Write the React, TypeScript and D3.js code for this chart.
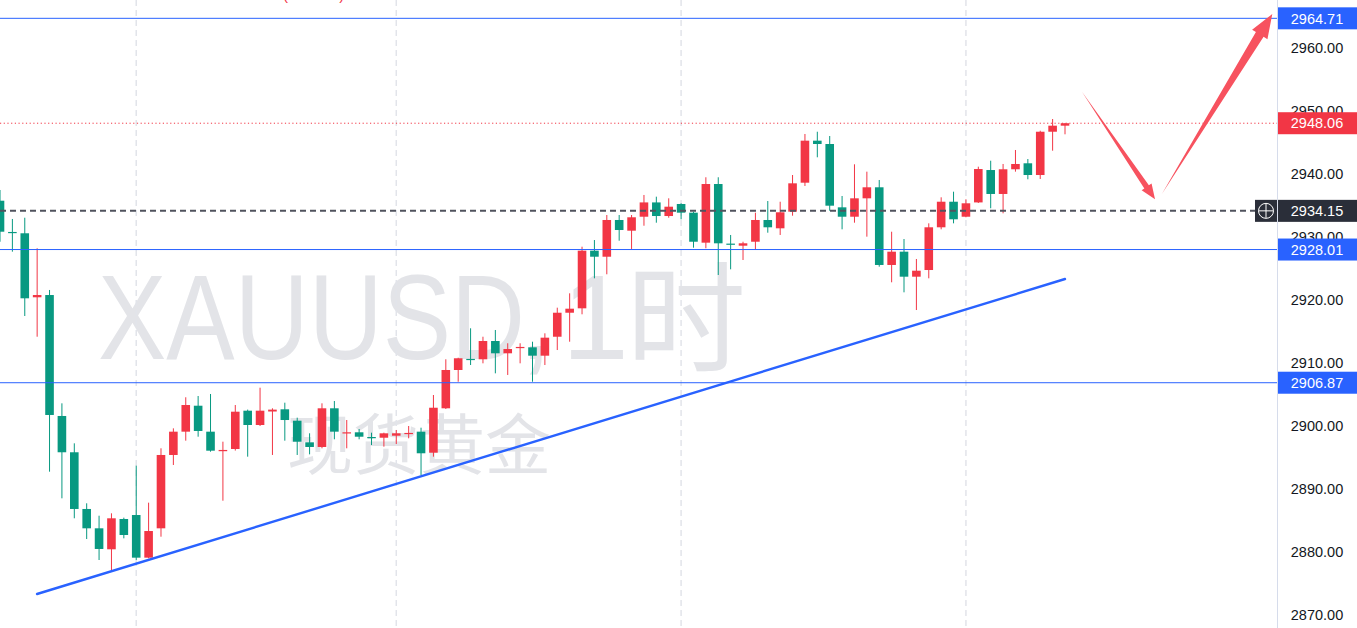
import React from "react";
import * as d3 from "d3";

// ---- Data (hourly XAUUSD candles) ----
const opens = [
  2935.76, 2930.8, 2930.59, 2920.43, 2920.79, 2901.59, 2895.83, 2886.83, 2883.76, 2880.43,
  2885.24, 2885.87, 2879.1, 2883.76, 2895.4, 2899.1, 2903.22, 2899.1, 2896.0, 2896.35,
  2902.43, 2900.16, 2902.3, 2902.65, 2900.84, 2897.41, 2896.67, 2902.81, 2898.9, 2899.0,
  2898.25, 2898.14, 2898.46, 2898.8, 2899.1, 2895.76, 2902.81, 2908.89, 2910.65, 2910.59,
  2913.49, 2911.54, 2912.4, 2912.49, 2911.16, 2914.17, 2917.98, 2918.68, 2927.83, 2926.87,
  2932.7, 2931.0, 2933.22, 2935.49, 2933.33, 2935.24, 2933.86, 2929.1, 2938.41, 2928.95,
  2928.62, 2929.25, 2932.7, 2931.38, 2934.02, 2938.62, 2945.29, 2944.76, 2934.71, 2933.22,
  2936.14, 2937.89, 2925.56, 2927.67, 2923.7, 2924.76, 2931.54, 2935.6, 2933.22, 2935.49,
  2940.63, 2936.83, 2940.75, 2941.7, 2939.84, 2946.71, 2947.67,
];
const highs = [
  2937.46, 2932.86, 2933.06, 2928.21, 2921.59, 2903.6, 2897.25, 2887.73, 2885.76, 2886.14,
  2885.45, 2893.7, 2887.83, 2896.46, 2899.63, 2904.56, 2904.76, 2905.08, 2897.51, 2903.33,
  2902.6, 2906.08, 2902.81, 2903.7, 2901.32, 2898.84, 2903.6, 2903.97, 2900.95, 2899.52,
  2898.94, 2898.94, 2899.37, 2900.0, 2899.73, 2904.92, 2910.59, 2910.84, 2915.51, 2914.17,
  2915.24, 2913.13, 2913.13, 2913.38, 2914.71, 2918.78, 2921.06, 2928.46, 2929.52, 2933.49,
  2933.49, 2933.49, 2936.67, 2936.4, 2936.14, 2935.35, 2934.02, 2939.48, 2939.48, 2930.32,
  2929.25, 2933.86, 2935.71, 2935.6, 2939.84, 2946.35, 2946.71, 2946.03, 2936.51, 2941.54,
  2940.37, 2939.05, 2930.84, 2929.68, 2926.51, 2932.17, 2936.3, 2937.19, 2935.98, 2941.16,
  2942.11, 2941.59, 2943.81, 2942.38, 2946.87, 2948.73, 2948.06,
];
const lows = [
  2929.25, 2927.67, 2917.46, 2914.17, 2892.75, 2888.52, 2885.35, 2882.06, 2878.73, 2876.87,
  2882.17, 2878.73, 2879.0, 2882.43, 2893.81, 2897.67, 2898.3, 2895.92, 2888.14, 2896.1,
  2895.13, 2900.0, 2895.4, 2897.67, 2895.4, 2895.5, 2896.46, 2897.89, 2896.46, 2897.89,
  2896.98, 2896.72, 2897.14, 2898.05, 2892.22, 2895.13, 2902.7, 2907.03, 2909.68, 2909.95,
  2908.36, 2908.1, 2909.95, 2907.03, 2909.68, 2912.06, 2913.38, 2917.73, 2923.44, 2924.08,
  2929.41, 2928.1, 2931.79, 2932.27, 2933.06, 2932.81, 2928.3, 2928.21, 2923.97, 2924.87,
  2926.35, 2927.94, 2930.68, 2930.32, 2933.38, 2938.1, 2942.65, 2934.17, 2931.22, 2932.27,
  2930.05, 2925.29, 2922.81, 2921.22, 2918.41, 2923.44, 2931.22, 2932.17, 2933.13, 2935.4,
  2934.56, 2933.76, 2940.37, 2939.16, 2939.21, 2943.7, 2946.3,
];
const closes = [
  2930.84, 2930.7, 2920.27, 2920.79, 2901.75, 2895.83, 2886.83, 2883.76, 2880.48, 2885.35,
  2882.7, 2879.1, 2883.33, 2895.4, 2899.1, 2903.33, 2899.21, 2896.08, 2896.2, 2902.27,
  2900.16, 2902.43, 2902.6, 2900.95, 2897.51, 2896.67, 2902.81, 2899.1, 2899.0, 2898.3,
  2898.15, 2898.84, 2898.84, 2898.9, 2895.67, 2902.9, 2908.89, 2910.75, 2910.5, 2913.49,
  2911.54, 2912.22, 2912.55, 2911.16, 2914.02, 2917.98, 2918.62, 2927.83, 2926.87, 2932.7,
  2931.11, 2933.13, 2935.49, 2933.33, 2934.81, 2933.86, 2929.25, 2938.41, 2929.0, 2928.85,
  2929.0, 2932.7, 2931.54, 2933.92, 2938.52, 2945.29, 2944.76, 2934.97, 2933.22, 2936.14,
  2937.89, 2925.56, 2927.67, 2923.7, 2924.65, 2931.54, 2935.6, 2932.81, 2935.35, 2940.79,
  2936.83, 2940.75, 2941.59, 2939.84, 2946.71, 2947.67, 2948.06,
];

// price axis ticks
const priceTicks = [2870, 2880, 2890, 2900, 2910, 2920, 2930, 2940, 2950, 2960];
// session break bars (dashed vertical lines)
const sessionBreaks = [11, 32, 55, 78];
// horizontal levels drawn by user
const levels = [2964.71, 2928.01, 2906.87];
const lastPrice = 2948.06;
const markedPrice = 2934.15;
// trend line (bar index, price)
const trendLine = [
  { i: 2.99, p: 2873.33 },
  { i: 86.0, p: 2923.33 },
];
// arrow markers (bar index, price)
const arrowDown = { from: { i: 87.37, p: 2953.06 }, to: { i: 93.27, p: 2935.98 } };
const arrowUp = { from: { i: 93.81, p: 2936.78 }, to: { i: 102.74, p: 2965.4 } };

const W = 1357;
const H = 628;
const PLOT_R = 1277;
const UP = "#F23645";
const DOWN = "#089981";
const BLUE = "#2962FF";

function arrowPath(x0: number, y0: number, x1: number, y1: number, headLen: number, headW: number, bodyW: number) {
  const dx = x1 - x0;
  const dy = y1 - y0;
  const L = Math.hypot(dx, dy);
  const ux = dx / L;
  const uy = dy / L;
  const nx = -uy;
  const ny = ux;
  const bx = x1 - ux * headLen;
  const by = y1 - uy * headLen;
  const pts = [
    [x0, y0],
    [bx + (nx * bodyW) / 2, by + (ny * bodyW) / 2],
    [bx + (nx * headW) / 2, by + (ny * headW) / 2],
    [x1, y1],
    [bx - (nx * headW) / 2, by - (ny * headW) / 2],
    [bx - (nx * bodyW) / 2, by - (ny * bodyW) / 2],
  ];
  return "M" + pts.map((p) => p.join(",")).join("L") + "Z";
}

export default function App() {
  const x = d3.scaleLinear().domain([0, 86]).range([0, 1065]);
  const y = d3.scaleLinear().domain([2870, 2960]).range([615, 48]);
  const bodyW = 8.6;
  const font = "'Liberation Sans', Arial, sans-serif";

  const trendGen = d3
    .line<{ i: number; p: number }>()
    .x((d) => x(d.i))
    .y((d) => y(d.p));

  const labelBox = (p: number, fill: string, key: string) => (
    <g key={key}>
      <rect x={PLOT_R + 1} y={y(p) - 11} width={W - PLOT_R - 1} height={22} fill={fill} />
      <text
        x={1317}
        y={y(p)}
        dy="0.36em"
        textAnchor="middle"
        fill="#ffffff"
        fontSize={14.5}
        fontFamily={font}
      >
        {p.toFixed(2)}
      </text>
    </g>
  );

  return (
    <svg
      width={W}
      height={H}
      style={{ position: "absolute", left: 0, top: 0, display: "block", background: "#ffffff" }}
    >
      <rect x={0} y={0} width={W} height={H} fill="#ffffff" />
      <clipPath id="plot">
        <rect x={0} y={0} width={PLOT_R} height={H} />
      </clipPath>

      <g clipPath="url(#plot)">
        {/* watermark */}
        <g fill="#e3e4e8">
          <text x={98} y={359} fontSize={120} fontFamily={font} textLength={427} lengthAdjust="spacingAndGlyphs">
            XAUUSD
          </text>
          <text x={519} y={359} fontSize={120} fontFamily={font}>
            ,
          </text>
          <text x={562} y={359} fontSize={120} fontFamily={font}>
            1
          </text>
          <text x={626} y={363} fontSize={120} fontFamily="'Noto Sans CJK SC', sans-serif">
            时
          </text>
          <text x={287} y={469} fontSize={66} fontFamily="'Noto Sans CJK SC', sans-serif">
            现货黄金
          </text>
        </g>

        {/* legend fragment at the very top */}
        <text x={283} y={0} fontSize={15} fill={UP} fontFamily={font}>
          (+0.39%)
        </text>

        {/* session breaks */}
        {sessionBreaks.map((i) => (
          <line
            key={"sb" + i}
            x1={x(i)}
            x2={x(i)}
            y1={0}
            y2={H}
            stroke="#e2e4ea"
            strokeWidth={1.5}
            strokeDasharray="6 4"
          />
        ))}

        {/* candles */}
        {opens.map((o, i) => {
          const c = closes[i];
          const col = c >= o ? UP : DOWN;
          const cx = x(i);
          const top = y(Math.max(o, c));
          const bot = y(Math.min(o, c));
          return (
            <g key={"c" + i}>
              <line x1={cx} x2={cx} y1={y(highs[i])} y2={y(lows[i])} stroke={col} strokeWidth={1} />
              <rect x={cx - bodyW / 2} y={top} width={bodyW} height={Math.max(1.2, bot - top)} fill={col} />
            </g>
          );
        })}

        {/* horizontal levels */}
        {levels.map((p) => (
          <line key={"lv" + p} x1={0} x2={PLOT_R} y1={y(p)} y2={y(p)} stroke={BLUE} strokeWidth={1} />
        ))}

        {/* trend line */}
        <path d={trendGen(trendLine) || ""} fill="none" stroke={BLUE} strokeWidth={2.4} strokeLinecap="round" />

        {/* last price dotted line */}
        <line
          x1={0}
          x2={PLOT_R}
          y1={y(lastPrice)}
          y2={y(lastPrice)}
          stroke={UP}
          strokeWidth={1}
          strokeDasharray="1.2 2.5"
        />

        {/* marked price dashed line */}
        <line
          x1={0}
          x2={1255}
          y1={y(markedPrice)}
          y2={y(markedPrice)}
          stroke="#50535E"
          strokeWidth={2}
          strokeDasharray="6 4"
        />

        {/* arrows */}
        <path
          d={arrowPath(x(arrowDown.from.i), y(arrowDown.from.p), x(arrowDown.to.i), y(arrowDown.to.p), 15, 12, 5.5)}
          fill="#F7525F"
        />
        <path
          d={arrowPath(x(arrowUp.from.i), y(arrowUp.from.p), x(arrowUp.to.i), y(arrowUp.to.p), 24, 18, 9)}
          fill="#F7525F"
        />
      </g>

      {/* price axis */}
      <line x1={PLOT_R + 0.5} x2={PLOT_R + 0.5} y1={0} y2={H} stroke="#D6DCEB" strokeWidth={1} />
      {priceTicks.map((t) => (
        <text
          key={"t" + t}
          x={1317}
          y={y(t)}
          dy="0.36em"
          textAnchor="middle"
          fill="#131722"
          fontSize={14.5}
          fontFamily={font}
        >
          {t.toFixed(2)}
        </text>
      ))}

      {labelBox(levels[0], BLUE, "l0")}
      {labelBox(lastPrice, UP, "lp")}
      {labelBox(levels[1], BLUE, "l1")}
      {labelBox(levels[2], BLUE, "l2")}

      {/* marked price: crosshair icon + dark label */}
      <rect x={1255} y={y(markedPrice) - 11} width={22} height={22} fill="#2A2E39" />
      <circle cx={1266} cy={y(markedPrice)} r={7.5} fill="none" stroke="#ffffff" strokeWidth={1} />
      <line x1={1266} x2={1266} y1={y(markedPrice) - 7} y2={y(markedPrice) + 7} stroke="#ffffff" strokeWidth={1} />
      <line x1={1259} x2={1273} y1={y(markedPrice)} y2={y(markedPrice)} stroke="#ffffff" strokeWidth={1} />
      {labelBox(markedPrice, "#2A2E39", "mp")}
    </svg>
  );
}
